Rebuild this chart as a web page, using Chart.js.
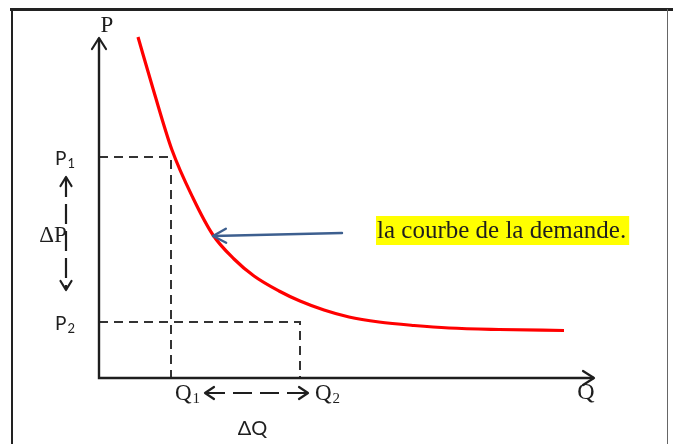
<!DOCTYPE html>
<html>
<head>
<meta charset="utf-8">
<title>Courbe de la demande</title>
<script src="https://cdn.jsdelivr.net/npm/chart.js@4/dist/chart.umd.min.js"></script>
<style>
  html, body { margin: 0; padding: 0; background: #fff; }
  #wrap { width: 673px; height: 444px; position: relative; }
</style>
</head>
<body>
<div id="wrap"><canvas id="chartDemande"></canvas></div>
<script>
(function() {
    'use strict';

    // Courbe de demande (Q, P)
    var demandQ = [3.9, 5.5, 7.3, 9.4, 11.4, 13.5, 15.5, 18.0, 20.1, 22.5, 25.0, 28.0, 31.5, 35.0, 40.0, 46.5];
    var demandP = [34.1, 28.6, 22.8, 18.0, 14.3, 11.9, 10.2, 8.7, 7.7, 6.8, 6.1, 5.6, 5.25, 5.0, 4.85, 4.75];

    // P1, P2 et Q1, Q2
    var priceLevels = [22.1, 5.6];
    var quantityLevels = [7.2, 20.1];

    // Longueur des axes
    var axisQmax = 49.5;
    var axisPmax = 34.0;

    // Flèches ΔP, ΔQ et flèche vers la courbe
    var deltaPArrow = [[-3.3, 20.1], [-3.3, 8.8]];
    var deltaQArrow = [[10.6, -1.5], [20.9, -1.5]];
    var pointerArrow = [[24.3, 14.5], [11.4, 14.2]];

    var curveLabel = 'la courbe de la demande.';

    var INK = '#1e1e1e';
    var SERIF = '"Liberation Serif", "Times New Roman", serif';
    var SANS = 'Lato, "Noto Sans", sans-serif';

    var curvePoints = demandQ.map(function(q, i) { return { x: q, y: demandP[i] }; });

    function dashedGuide(i) {
        return [
            { x: 0, y: priceLevels[i] },
            { x: quantityLevels[i], y: priceLevels[i] },
            { x: quantityLevels[i], y: 0 }
        ];
    }

    function arrowHead(ctx, tx, ty, fx, fy, len, half) {
        var a = Math.atan2(ty - fy, tx - fx);
        var c = Math.cos(a), s = Math.sin(a);
        ctx.beginPath();
        ctx.moveTo(tx - len * c - half * s, ty - len * s + half * c);
        ctx.lineTo(tx, ty);
        ctx.lineTo(tx - len * c + half * s, ty - len * s - half * c);
        ctx.stroke();
    }

    function subLabel(ctx, x, y, base, sub, font, subFont, drop) {
        ctx.font = font;
        ctx.fillText(base, x, y);
        var w = ctx.measureText(base).width;
        ctx.font = subFont;
        ctx.fillText(sub, x + w + 1, y + drop);
    }

    var sketch = {
        id: 'demandSketch',
        beforeDraw: function(chart) {
            var ctx = chart.ctx;
            ctx.save();
            ctx.fillStyle = '#fff';
            ctx.fillRect(0, 0, chart.width, chart.height);
            // cadre
            ctx.strokeStyle = '#222';
            ctx.lineWidth = 3;
            ctx.beginPath();
            ctx.moveTo(10, 9.5);
            ctx.lineTo(chart.width, 9.5);
            ctx.stroke();
            ctx.lineWidth = 2;
            ctx.beginPath();
            ctx.moveTo(12, 9);
            ctx.lineTo(12, chart.height);
            ctx.stroke();
            ctx.strokeStyle = '#666';
            ctx.lineWidth = 1;
            ctx.beginPath();
            ctx.moveTo(667.5, 9);
            ctx.lineTo(667.5, chart.height);
            ctx.stroke();
            ctx.restore();
        },
        afterDatasetsDraw: function(chart) {
            var ctx = chart.ctx;
            var xs = chart.scales.x, ys = chart.scales.y;
            function px(v) { return xs.getPixelForValue(v); }
            function py(v) { return ys.getPixelForValue(v); }

            ctx.save();
            ctx.lineCap = 'round';
            ctx.lineJoin = 'round';

            // pointes des axes
            ctx.strokeStyle = INK;
            ctx.lineWidth = 2.2;
            arrowHead(ctx, px(0), py(axisPmax), px(0), py(0), 11, 7);
            arrowHead(ctx, px(axisQmax), py(0), px(0), py(0), 11, 7);

            // ΔP : double flèche pointillée
            ctx.lineWidth = 2.2;
            var a0 = deltaPArrow[0], a1 = deltaPArrow[1];
            ctx.setLineDash([20, 7]);
            ctx.lineCap = 'butt';
            ctx.beginPath();
            ctx.moveTo(px(a0[0]), py(a0[1]));
            ctx.lineTo(px(a1[0]), py(a1[1]));
            ctx.stroke();
            ctx.setLineDash([]);
            ctx.lineCap = 'round';
            arrowHead(ctx, px(a0[0]), py(a0[1]), px(a1[0]), py(a1[1]), 9, 5.5);
            arrowHead(ctx, px(a1[0]), py(a1[1]), px(a0[0]), py(a0[1]), 9, 5.5);

            // ΔQ : double flèche pointillée
            var b0 = deltaQArrow[0], b1 = deltaQArrow[1];
            ctx.setLineDash([19, 8]);
            ctx.lineCap = 'butt';
            ctx.beginPath();
            ctx.moveTo(px(b0[0]) + 1, py(b0[1]));
            ctx.lineTo(px(b1[0]), py(b1[1]));
            ctx.stroke();
            ctx.setLineDash([]);
            ctx.lineCap = 'round';
            arrowHead(ctx, px(b0[0]), py(b0[1]), px(b1[0]), py(b1[1]), 9, 6);
            arrowHead(ctx, px(b1[0]), py(b1[1]), px(b0[0]), py(b0[1]), 9, 6);

            // flèche bleue vers la courbe
            var c0 = pointerArrow[0], c1 = pointerArrow[1];
            ctx.strokeStyle = '#3d5f8f';
            ctx.lineWidth = 2.4;
            ctx.beginPath();
            ctx.moveTo(px(c0[0]), py(c0[1]));
            ctx.lineTo(px(c1[0]), py(c1[1]));
            ctx.stroke();
            arrowHead(ctx, px(c1[0]), py(c1[1]), px(c0[0]), py(c0[1]), 13, 7);

            // étiquette surlignée
            ctx.font = '25px ' + SERIF;
            var tw = ctx.measureText(curveLabel).width;
            var lx = px(c0[0]) + 35, ly = py(c0[1]) - 17;
            ctx.fillStyle = '#ffff00';
            ctx.fillRect(lx - 1, ly, tw + 4, 29);
            ctx.fillStyle = INK;
            ctx.textBaseline = 'alphabetic';
            ctx.textAlign = 'left';
            ctx.fillText(curveLabel, lx, ly + 21.5);

            // noms des axes
            ctx.font = '23px ' + SERIF;
            ctx.textAlign = 'center';
            ctx.fillText('P', px(0) + 8, py(axisPmax) - 6);
            ctx.font = '24px ' + SERIF;
            ctx.fillText('Q', px(axisQmax) - 8, py(0) + 21);

            // P1, P2
            ctx.textAlign = 'left';
            priceLevels.forEach(function(p, i) {
                subLabel(ctx, px(0) - 44, py(p) + 8, 'P', String(i + 1),
                    '19px ' + SANS, '13px ' + SANS, 3);
            });

            // Q1, Q2
            var qOffsets = [4, 15];
            quantityLevels.forEach(function(q, i) {
                subLabel(ctx, px(q) + qOffsets[i], py(0) + 22, 'Q', String(i + 1),
                    '23px ' + SERIF, '15px ' + SERIF, 3);
            });

            // ΔP, ΔQ
            ctx.textAlign = 'center';
            ctx.font = '23px ' + SERIF;
            ctx.fillText('\u0394P', px(a0[0]) - 13, py((a0[1] + a1[1]) / 2) + 8);
            ctx.font = '20px ' + SANS;
            ctx.fillText('\u0394Q', (px(b0[0]) + px(b1[0])) / 2 - 4, py(b0[1]) + 42);

            ctx.restore();
        }
    };

    new Chart(document.getElementById('chartDemande'), {
        type: 'scatter',
        data: {
            datasets: [
                {
                    label: 'Demande',
                    data: curvePoints,
                    showLine: true,
                    borderColor: '#ff0000',
                    borderWidth: 3.2,
                    pointRadius: 0,
                    cubicInterpolationMode: 'monotone'
                },
                {
                    label: 'Axes',
                    data: [{ x: 0, y: axisPmax }, { x: 0, y: 0 }, { x: axisQmax, y: 0 }],
                    showLine: true,
                    borderColor: INK,
                    borderWidth: 2.4,
                    pointRadius: 0,
                    borderJoinStyle: 'miter'
                },
                {
                    label: 'P1',
                    data: dashedGuide(0),
                    showLine: true,
                    borderColor: '#333',
                    borderWidth: 2,
                    borderDash: [9, 6],
                    pointRadius: 0
                },
                {
                    label: 'P2',
                    data: dashedGuide(1),
                    showLine: true,
                    borderColor: '#333',
                    borderWidth: 2,
                    borderDash: [9, 6],
                    pointRadius: 0
                }
            ]
        },
        options: {
            responsive: true,
            maintainAspectRatio: false,
            animation: false,
            layout: { padding: 0 },
            plugins: {
                legend: { display: false },
                tooltip: { enabled: false }
            },
            scales: {
                x: { type: 'linear', min: -9.9, max: 57.4, display: false },
                y: { type: 'linear', min: -6.6, max: 37.8, display: false }
            }
        },
        plugins: [sketch]
    });
})();
</script>
</body>
</html>
